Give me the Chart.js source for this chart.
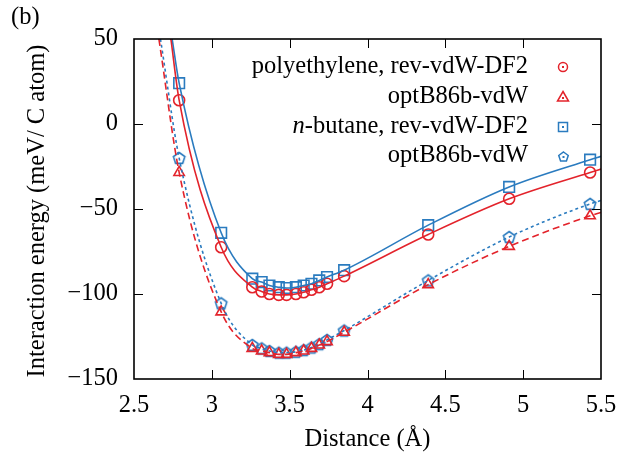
<!DOCTYPE html>
<html>
<head>
<meta charset="utf-8">
<script src="https://cdn.jsdelivr.net/npm/chart.js@4"></script>
<style>
  body { margin: 0; background: #fff; }
  #wrap { width: 640px; height: 455px; }
</style>
</head>
<body>
<div id="wrap"><canvas id="chartEnergia" width="640" height="455"></canvas></div>
<script>
// distancias (Å) de los puntos calculados
const distancia = [2.79, 3.06, 3.26, 3.32, 3.37, 3.43, 3.48, 3.54, 3.59, 3.64, 3.69, 3.74, 3.85, 4.39, 4.91, 5.43]

// energías (meV / C atom)
const polietilenoRev = [14, -72.5, -96, -98.5, -100, -100.5, -100.5, -100, -99, -97.5, -96, -94, -89.5, -65, -44, -28.5]
const polietilenoOpt = [-28.5, -110.5, -132, -133.5, -134.5, -135.5, -135.5, -134.5, -133.5, -132, -130, -128, -122.5, -94.5, -72, -54]
const butanoRev = [24, -64, -91, -93, -95, -96, -96.5, -96, -95, -94, -92, -90, -86, -59.5, -37, -21]
const butanoOpt = [-20, -105.5, -130, -132, -133.5, -134.5, -134.5, -134, -133, -131.5, -129.5, -127, -121.5, -92, -66.5, -47]

// extremos de las curvas de ajuste: [x inicio, y inicio, x fin, y fin]
const extremoPolRev = [2.737, 50, 5.5, -26.5]
const extremoPolOpt = [2.66, 50, 5.5, -52]
const extremoButRev = [2.745, 50, 5.5, -19]
const extremoButOpt = [2.67, 50, 5.5, -45]

const ticksX = [2.5, 3, 3.5, 4, 4.5, 5, 5.5]
const ticksY = [-150, -100, -50, 0, 50]

const etiquetas = ['polyethylene, rev-vdW-DF2', 'optB86b-vdW', 'n-butane, rev-vdW-DF2', 'optB86b-vdW']

const rojo = '#e3232b'
const azul = '#2a7bbf'
const fuente = "'Liberation Serif', 'Times New Roman', serif"
const tam = 24.5

function puntos(valores) {
  return distancia.map((x, i) => ({ x: x, y: valores[i] }))
}

function curva(valores, ext) {
  return [{ x: ext[0], y: ext[1] }].concat(puntos(valores), [{ x: ext[2], y: ext[3] }])
}

function pentagono(r, color, lw, punto) {
  const c = document.createElement('canvas')
  const s = Math.ceil(2 * r + 2 * lw + 2)
  c.width = s
  c.height = s
  const g = c.getContext('2d')
  g.strokeStyle = color
  g.fillStyle = color
  g.lineWidth = lw
  g.beginPath()
  for (let k = 0; k < 5; k++) {
    const a = -Math.PI / 2 + k * 2 * Math.PI / 5
    const px = s / 2 + r * Math.cos(a)
    const py = s / 2 + 0.5 + r * Math.sin(a)
    if (k === 0) g.moveTo(px, py)
    else g.lineTo(px, py)
  }
  g.closePath()
  g.stroke()
  if (punto) g.fillRect(s / 2 - 1, s / 2 - 0.5, 2, 2)
  return c
}

const pentaPlot = pentagono(6, azul, 1.6, false)

function lineaDs(valores, ext, color, dash) {
  return {
    data: curva(valores, ext),
    showLine: true,
    borderColor: color,
    borderWidth: 1.6,
    borderDash: dash,
    pointRadius: 0,
    cubicInterpolationMode: 'monotone',
    fill: false
  }
}

function marcasDs(valores, color, estilo, radio) {
  return {
    data: puntos(valores),
    showLine: false,
    borderColor: color,
    backgroundColor: 'rgba(0,0,0,0)',
    borderWidth: 1.6,
    pointStyle: estilo,
    pointRadius: radio,
    pointHoverRadius: radio
  }
}

const marco = {
  id: 'marco',
  afterDraw(chart) {
    const ctx = chart.ctx
    const a = chart.chartArea
    const sx = chart.scales.x
    const sy = chart.scales.y
    ctx.save()
    ctx.strokeStyle = '#000'
    ctx.lineWidth = 1
    ctx.beginPath()
    ticksX.slice(1, -1).forEach(v => {
      const px = Math.round(sx.getPixelForValue(v)) + 0.5
      ctx.moveTo(px, a.bottom); ctx.lineTo(px, a.bottom - 9)
      ctx.moveTo(px, a.top); ctx.lineTo(px, a.top + 9)
    })
    ticksY.slice(1, -1).forEach(v => {
      const py = Math.round(sy.getPixelForValue(v)) + 0.5
      ctx.moveTo(a.left, py); ctx.lineTo(a.left + 9, py)
      ctx.moveTo(a.right, py); ctx.lineTo(a.right - 9, py)
    })
    ctx.stroke()
    ctx.lineWidth = 1.6
    ctx.strokeRect(a.left, a.top, a.right - a.left, a.bottom - a.top)

    // títulos
    ctx.fillStyle = '#000'
    ctx.font = tam + 'px ' + fuente
    ctx.textAlign = 'center'
    ctx.textBaseline = 'middle'
    ctx.fillText('Distance (Å)', (a.left + a.right) / 2, 440)
    ctx.save()
    ctx.translate(38, 211)
    ctx.rotate(-Math.PI / 2)
    ctx.fillText('Interaction energy (meV/ C atom)', 0, 0)
    ctx.restore()
    ctx.textAlign = 'left'
    ctx.fillText('(b)', 11, 18)

    // leyenda
    const derecha = 528
    const filas = [67, 97, 127, 156]
    ctx.textAlign = 'right'
    filas.forEach((fy, i) => {
      const txt = etiquetas[i]
      if (txt.startsWith('n-')) {
        const resto = txt.slice(1)
        ctx.font = tam + 'px ' + fuente
        ctx.fillText(resto, derecha, fy)
        const w = ctx.measureText(resto).width
        ctx.font = 'italic ' + tam + 'px ' + fuente
        ctx.fillText('n', derecha - w, fy)
        ctx.font = tam + 'px ' + fuente
      } else {
        ctx.fillText(txt, derecha, fy)
      }
    })
    ctx.lineWidth = 1.5
    const mx = 563
    // círculo
    ctx.strokeStyle = rojo; ctx.fillStyle = rojo
    ctx.beginPath(); ctx.arc(mx, filas[0], 4.5, 0, 2 * Math.PI); ctx.stroke()
    ctx.fillRect(mx - 1, filas[0] - 1, 2, 2)
    // triángulo
    ctx.beginPath()
    ctx.moveTo(mx, filas[1] - 5.5); ctx.lineTo(mx + 5.5, filas[1] + 4); ctx.lineTo(mx - 5.5, filas[1] + 4)
    ctx.closePath(); ctx.stroke()
    ctx.fillRect(mx - 1, filas[1], 2, 2)
    // cuadrado
    ctx.strokeStyle = azul; ctx.fillStyle = azul
    ctx.strokeRect(mx - 4.5, filas[2] - 4.5, 9, 9)
    ctx.fillRect(mx - 1, filas[2] - 1, 2, 2)
    // pentágono
    ctx.drawImage(pentagono(5, azul, 1.5, true), mx - 7, filas[3] - 7)
    ctx.restore()
  }
}

const ctx = document.getElementById('chartEnergia').getContext('2d')
new Chart(ctx, {
  type: 'scatter',
  data: {
    datasets: [
      lineaDs(polietilenoRev, extremoPolRev, rojo, []),
      lineaDs(polietilenoOpt, extremoPolOpt, rojo, [7, 4]),
      lineaDs(butanoRev, extremoButRev, azul, []),
      lineaDs(butanoOpt, extremoButOpt, azul, [3, 3]),
      marcasDs(polietilenoRev, rojo, 'circle', 5.5),
      marcasDs(polietilenoOpt, rojo, 'triangle', 6),
      marcasDs(butanoRev, azul, 'rect', 7.5),
      marcasDs(butanoOpt, azul, pentaPlot, 6)
    ]
  },
  options: {
    responsive: false,
    animation: false,
    devicePixelRatio: 1,
    layout: { padding: { top: 39, right: 39, left: 0, bottom: 0 } },
    plugins: {
      legend: { display: false },
      tooltip: { enabled: false }
    },
    scales: {
      x: {
        type: 'linear',
        min: 2.5,
        max: 5.5,
        afterFit: s => { s.height = 76 },
        afterBuildTicks: s => { s.ticks = ticksX.map(v => ({ value: v })) },
        grid: { display: false, drawTicks: false },
        border: { display: false },
        ticks: {
          padding: 12,
          color: '#000',
          font: { family: fuente, size: tam },
          maxRotation: 0,
          callback: v => String(v)
        }
      },
      y: {
        type: 'linear',
        min: -150,
        max: 50,
        afterFit: s => { s.width = 134 },
        afterBuildTicks: s => { s.ticks = ticksY.map(v => ({ value: v })) },
        grid: { display: false, drawTicks: false },
        border: { display: false },
        ticks: {
          padding: 16,
          color: '#000',
          font: { family: fuente, size: tam },
          callback: v => String(v).replace('-', '\u2212')
        }
      }
    }
  },
  plugins: [marco]
})
</script>
</body>
</html>
